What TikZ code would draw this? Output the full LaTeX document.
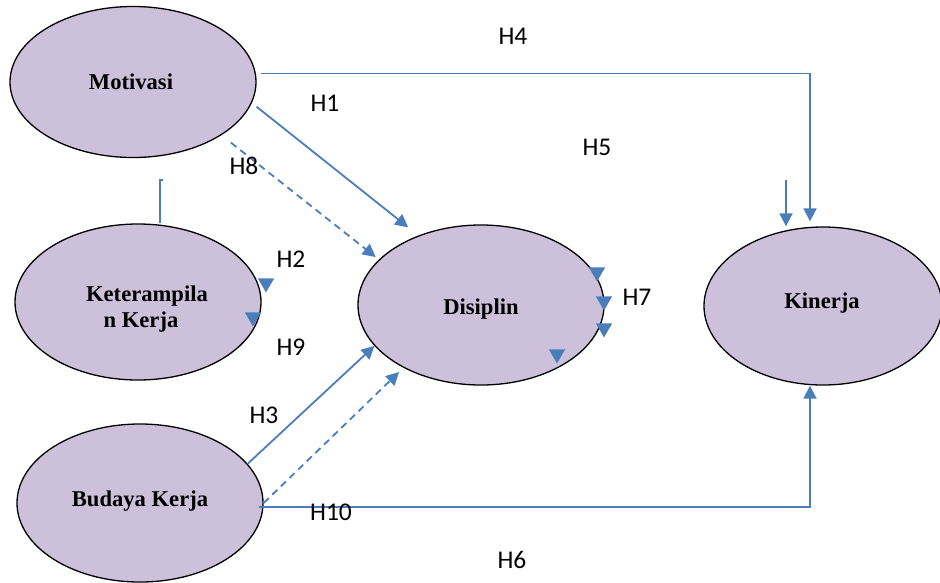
\documentclass[tikz,border=0pt]{standalone}
\usepackage{fontspec}
\setmainfont{Liberation Serif}
\newfontfamily\hypfont{Carlito}
\usetikzlibrary{arrows.meta,shapes.geometric,calc}

\definecolor{linkblue}{HTML}{4A7EBB}
\definecolor{constructfill}{HTML}{CCC0DA}

\begin{document}
\begin{tikzpicture}[x=1pt,y=-1pt,
  construct/.style={ellipse, draw=black, line width=1.3pt, fill=constructfill, inner sep=0pt},
  constructname/.style={anchor=base, inner sep=0pt, font=\bfseries\fontsize{22.6}{27}\selectfont},
  plainlink/.style={draw=linkblue, line width=1.8pt},
  link/.style={plainlink, -{Triangle[length=13pt,width=13pt]}},
  dashlink/.style={link, dash pattern=on 7pt off 5pt},
  hyp/.style={inner sep=0pt, font=\hypfont\fontsize{25.5}{30}\selectfont},
  loosetip/.style={regular polygon, regular polygon sides=3, shape border rotate=180,
    fill=linkblue, inner sep=0pt, minimum size=19pt}]
\useasboundingbox (0,0) rectangle (940,582);

% constructs
\node[construct, minimum width=246pt, minimum height=151pt] (mot) at (133,82) {};
\node[construct, minimum width=246pt, minimum height=156pt] (ket) at (138,302) {};
\node[construct, minimum width=246pt, minimum height=160pt] (dis) at (481,305) {};
\node[construct, minimum width=238pt, minimum height=158pt] (kin) at (823,306) {};
\node[construct, minimum width=246pt, minimum height=158pt] (bud) at (140,503) {};

% construct names
\node[constructname] (motname) at (131,89.5) {Motivasi};
\node[constructname] (ketnamea) at (147,301) {Keterampila};
\node[constructname] (ketnameb) at (141,327) {n Kerja};
\node[constructname] (disname) at (481,314) {Disiplin};
\node[constructname] (kinname) at (822,308) {Kinerja};
\node[constructname] (budname) at (140,506) {Budaya Kerja};

% paths
\draw[link, shorten <=5pt, shorten >=5pt] (mot.4) -| ([xshift=-13pt]kin.north);
\draw[link, shorten <=-4pt] (bud.-2) -| ([xshift=-13pt]kin.south);
\draw[link, shorten <=6pt, shorten >=13pt] (mot.-10) -- (dis.132);
\draw[dashlink, shorten <=12pt, shorten >=4pt] (mot.-31) -- (dis.156);
\draw[link] (bud.20) -- (dis.201);
\draw[dashlink, shorten >=6pt] (bud.0) -- (dis.219);

\coordinate (kinstub) at (786,180);
\draw[link] (kinstub) -- (kinstub |- kin.north);

\coordinate (ketstub) at (160,180);
\draw[plainlink, line width=1.5pt] ([xshift=22pt]ket.north) -- (ketstub) -- ++(2.5,0);

% detached arrowheads
\node[loosetip] (tipa) at (266,283) {};
\node[loosetip] (tipb) at (253,317) {};
\node[loosetip] (tipc) at (597,272) {};
\node[loosetip] (tipd) at (604,301) {};
\node[loosetip] (tipe) at (604,328) {};
\node[loosetip] (tipf) at (557,354) {};

% hypothesis labels
\node[hyp] (h4) at (513,36) {H4};
\node[hyp] (h1) at (325,103) {H1};
\node[hyp] (h5) at (597,147) {H5};
\node[hyp] (h8) at (244,166) {H8};
\node[hyp] (h2) at (291,259) {H2};
\node[hyp] (h7) at (637,297) {H7};
\node[hyp] (h9) at (291,347) {H9};
\node[hyp] (h3) at (264,415) {H3};
\node[hyp] (h10) at (331,512) {H10};
\node[hyp] (h6) at (512,560) {H6};
\end{tikzpicture}
\end{document}
